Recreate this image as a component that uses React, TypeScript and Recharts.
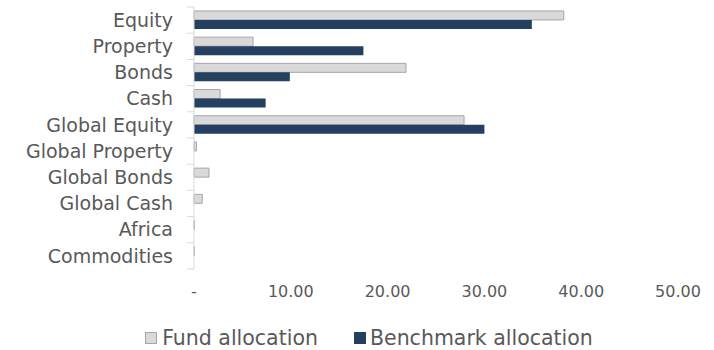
import { BarChart, Bar, XAxis, YAxis, Legend } from "recharts";

const categories = [
  "Equity",
  "Property",
  "Bonds",
  "Cash",
  "Global Equity",
  "Global Property",
  "Global Bonds",
  "Global Cash",
  "Africa",
  "Commodities",
];
const fundAllocation = [38.2, 6.1, 21.9, 2.7, 27.9, 0.25, 1.55, 0.85, 0.05, 0.05];
const benchmarkAllocation = [34.9, 17.5, 9.9, 7.4, 30.0, 0, 0, 0, 0, 0];
const xTicks = [0, 10, 20, 30, 40, 50];

const data = categories.map((name, i) => ({
  name,
  fund: fundAllocation[i],
  benchmark: benchmarkAllocation[i],
}));

const FONT = "'DejaVu Sans', sans-serif";
const TEXT = "#595959";
const FUND_FILL = "#d9d9d9";
const FUND_STROKE = "#a6a6a6";
const BENCH_FILL = "#243f60";

// Excel-style category tick: label in the middle of the band, tick marks on band edges
const CategoryTick = (props: any) => {
  const { x, y, payload, index } = props;
  const half = payload && payload.offset ? payload.offset : 13;
  const axisX = x + 21;
  return (
    <g>
      <line x1={axisX - 7} x2={axisX} y1={y - half} y2={y - half} stroke="#d9d9d9" />
      {index === categories.length - 1 && (
        <line x1={axisX - 7} x2={axisX} y1={y + half} y2={y + half} stroke="#d9d9d9" />
      )}
      <text x={x} y={y} dy="0.35em" textAnchor="end" fill={TEXT} fontSize={19} fontFamily={FONT}>
        {payload.value}
      </text>
    </g>
  );
};

const LegendContent = () => (
  <div
    style={{
      display: "flex",
      justifyContent: "center",
      gap: 36,
      fontFamily: FONT,
      fontSize: 20.5,
      lineHeight: "24px",
      color: TEXT,
      paddingLeft: 60,
    }}
  >
    <span style={{ display: "flex", alignItems: "center" }}>
      <span
        style={{
          width: 10,
          height: 10,
          background: FUND_FILL,
          border: `1px solid ${FUND_STROKE}`,
          marginRight: 5,
          display: "inline-block",
        }}
      />
      Fund allocation
    </span>
    <span style={{ display: "flex", alignItems: "center" }}>
      <span
        style={{
          width: 12,
          height: 12,
          background: BENCH_FILL,
          marginRight: 4,
          display: "inline-block",
        }}
      />
      Benchmark allocation
    </span>
  </div>
);

export default function App() {
  return (
    <div style={{ position: "absolute", left: 0, top: 0, background: "#fff" }}>
      <BarChart
        width={714}
        height={350}
        data={data}
        layout="vertical"
        margin={{ top: 7, right: 36, left: 0, bottom: 0 }}
        barCategoryGap="15%"
        barGap={0}
      >
        <XAxis
          type="number"
          domain={[0, 50]}
          ticks={xTicks}
          axisLine={false}
          tickLine={false}
          tickMargin={11}
          height={57}
          tick={{ fill: TEXT, fontSize: 16, fontFamily: FONT }}
          tickFormatter={(v: number) => (v === 0 ? "-" : v.toFixed(2))}
        />
        <YAxis
          type="category"
          dataKey="name"
          width={194}
          axisLine={{ stroke: "#d9d9d9" }}
          tickLine={false}
          tickSize={7}
          tickMargin={14}
          interval={0}
          tick={<CategoryTick />}
        />
        <Legend verticalAlign="bottom" content={<LegendContent />} />
        <Bar
          dataKey="fund"
          name="Fund allocation"
          fill={FUND_FILL}
          stroke={FUND_STROKE}
          strokeWidth={1}
          isAnimationActive={false}
        />
        <Bar
          dataKey="benchmark"
          name="Benchmark allocation"
          fill={BENCH_FILL}
          isAnimationActive={false}
        />
      </BarChart>
    </div>
  );
}
